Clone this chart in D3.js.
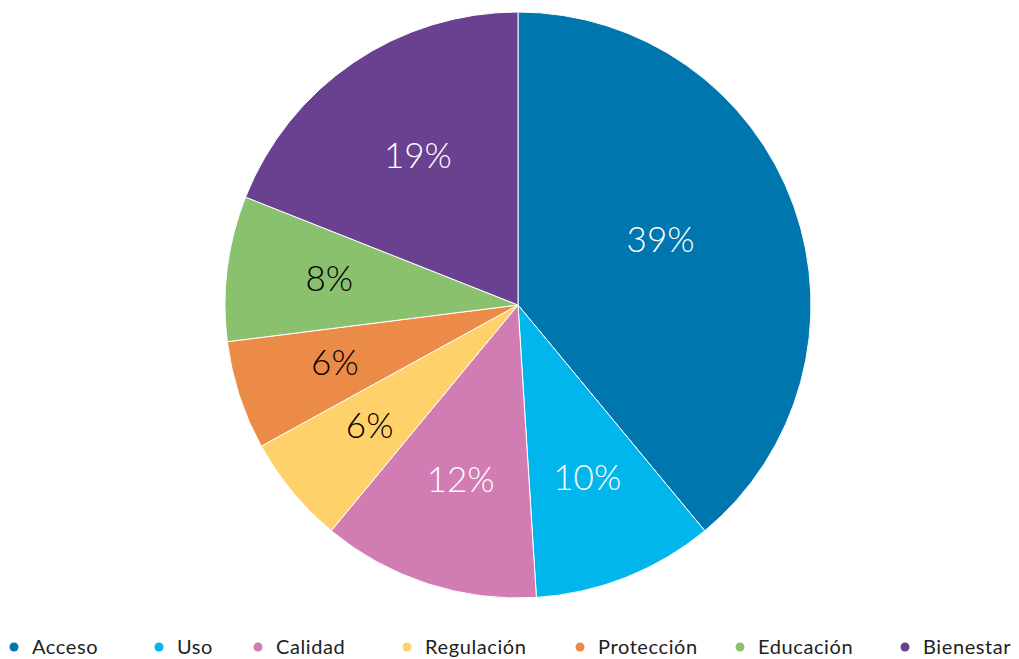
<!DOCTYPE html>
<html>
<head>
<meta charset="utf-8">
<script src="https://cdn.jsdelivr.net/npm/d3@7"></script>
<style>
  html, body { margin: 0; padding: 0; background: #fff; }
  svg { display: block; font-family: Lato, "Noto Sans", sans-serif; }
</style>
</head>
<body>
<svg id="chart" width="1019" height="659"></svg>
<script>
/* Pie chart: distribution by category */
var categories = ['Acceso', 'Uso', 'Calidad', 'Regulación', 'Protección', 'Educación', 'Bienestar'];
var values     = [39, 10, 12, 6, 6, 8, 19];
var colors     = ['#0076ae', '#00b6ed', '#d17cb2', '#fed16b', '#ec8b48', '#89c16e', '#6a4190'];
var labelInk   = ['#fff', '#fff', '#fff', '#000', '#000', '#000', '#fff'];

var legendX = [14, 159, 258, 407, 580, 740, 905];

var svg = d3.select('#chart');
var cx = 518, cy = 305, r = 293;

var pie = d3.pie().sort(null).value(function (d) { return d; });
var arcs = pie(values);
var arc = d3.arc().innerRadius(0).outerRadius(r);

var g = svg.append('g').attr('transform', 'translate(' + cx + ',' + cy + ')');

g.selectAll('path.slice')
  .data(arcs)
  .enter().append('path')
  .attr('class', 'slice')
  .attr('d', arc)
  .attr('fill', function (d, i) { return colors[i]; })
  .attr('stroke', '#fff').attr('stroke-width', 1);

/* labels sit nearer the rim for small slices */
g.selectAll('text.lbl')
  .data(arcs)
  .enter().append('text')
  .attr('class', 'lbl')
  .each(function (d, i) {
    var f = (d.endAngle - d.startAngle) / (2 * Math.PI);
    var rho = r * (0.68 - 0.38 * f);
    var a = (d.startAngle + d.endAngle) / 2;
    if (f > 0.3) a -= 0.07;
    d3.select(this)
      .attr('x', Math.sin(a) * rho)
      .attr('y', -Math.cos(a) * rho - 4);
  })
  .attr('text-anchor', 'middle')
  .attr('dominant-baseline', 'central')
  .style('font-size', '35px')
  .style('font-weight', 300)
  .style('fill', function (d, i) { return labelInk[i]; })
  .text(function (d) { return d.data + '%'; });

/* legend */
var leg = svg.append('g').attr('transform', 'translate(0,646)');
var items = leg.selectAll('g.item')
  .data(categories)
  .enter().append('g')
  .attr('class', 'item')
  .attr('transform', function (d, i) { return 'translate(' + legendX[i] + ',0)'; });

items.append('circle')
  .attr('cy', 1)
  .attr('r', 4.5)
  .attr('fill', function (d, i) { return colors[i]; });

items.append('text')
  .attr('x', 18)
  .attr('dominant-baseline', 'central')
  .style('font-size', '20px')
  .style('letter-spacing', '0.6px')
  .style('fill', '#222')
  .text(function (d) { return d; });
</script>
</body>
</html>
